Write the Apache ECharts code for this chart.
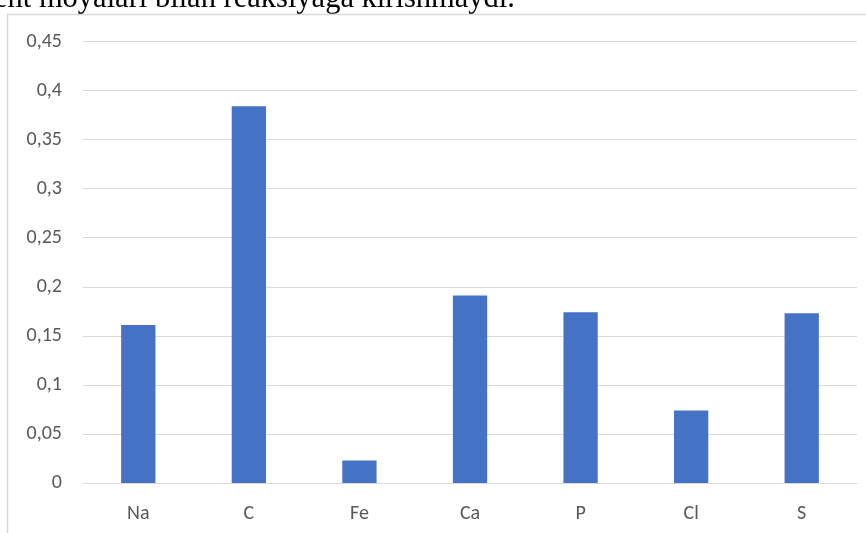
<!DOCTYPE html>
<html>
<head>
<meta charset="utf-8">
<script src="https://cdn.jsdelivr.net/npm/echarts@6/dist/echarts.min.js"></script>
<style>
  html, body { margin: 0; padding: 0; background: #fff; }
  #chart { width: 866px; height: 533px; }
</style>
</head>
<body>
<div id="chart"></div>
<script>
// Element shares
const categories = ['Na', 'C', 'Fe', 'Ca', 'P', 'Cl', 'S'];
const values = [0.161, 0.384, 0.023, 0.191, 0.174, 0.074, 0.173];
const yTicks = [0, 0.05, 0.1, 0.15, 0.2, 0.25, 0.3, 0.35, 0.4, 0.45];

const chart = echarts.init(document.getElementById('chart'));

const labelFont = 'Carlito, "Open Sans", "Noto Sans", sans-serif';

chart.setOption({
  animation: false,
  backgroundColor: '#ffffff',
  graphic: [
    {
      type: 'text',
      left: -6,
      top: -17,
      silent: true,
      style: {
        text: 'ent moyalari bilan reaksiyaga kirishmaydi.',
        font: '30.5px "Liberation Serif", "Times New Roman", serif',
        fill: '#000000'
      }
    },
    {
      type: 'polyline',
      silent: true,
      shape: { points: [[7.5, 540], [7.5, 14.5], [870, 14.5]] },
      style: { stroke: '#d9d9d9', lineWidth: 1.5, fill: null }
    }
  ],
  grid: { left: 83, right: 9, top: 41.5, bottom: 50, containLabel: false },
  xAxis: {
    type: 'category',
    data: categories,
    axisLine: { show: true, lineStyle: { color: '#d9d9d9', width: 1 } },
    axisTick: { show: false },
    axisLabel: { color: '#595959', fontSize: 20, fontFamily: labelFont, margin: 21 }
  },
  yAxis: {
    type: 'value',
    min: 0,
    max: yTicks[yTicks.length - 1],
    interval: 0.05,
    axisLine: { show: false },
    axisTick: { show: false },
    splitLine: { lineStyle: { color: '#d9d9d9', width: 1 } },
    axisLabel: {
      color: '#595959',
      fontSize: 20,
      fontFamily: labelFont,
      margin: 21,
      formatter: v => {
        const t = yTicks.find(x => Math.abs(x - v) < 1e-9);
        return String(t !== undefined ? t : v).replace('.', ',');
      }
    }
  },
  series: [{
    type: 'bar',
    data: values,
    barWidth: '31%',
    itemStyle: { color: '#4472c4' }
  }]
});
</script>
</body>
</html>
